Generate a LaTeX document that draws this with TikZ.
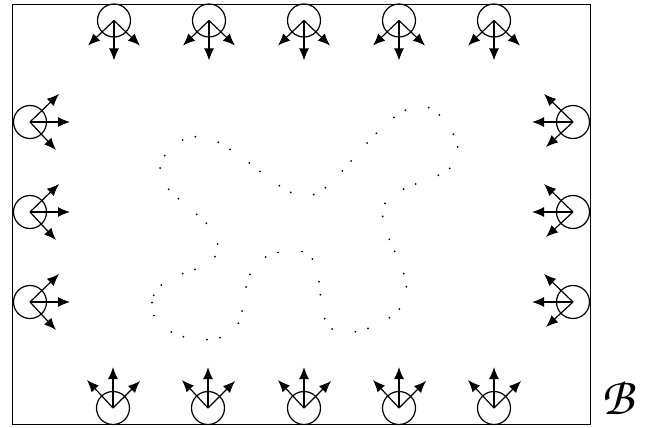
\documentclass[tikz,border=0pt]{standalone}
\usetikzlibrary{arrows.meta}
\begin{document}
\begin{tikzpicture}[x=1pt,y=-1pt,
  ring/.style={draw,circle,line width=1.2pt,minimum size=33pt,inner sep=0pt},
  arr/.style={line width=1.2pt,-{Latex[length=12pt,width=10pt]}},
  frame/.style={draw,line width=1pt},
  dotmark/.style={fill=black}]
\useasboundingbox (0,0) rectangle (646,428);
\draw[frame] (12,4.5) rectangle (590,424);
% top row
\foreach \i/\x in {1/114,2/209,3/304,4/399,5/494}{
  \node[ring] (t\i) at (\x,20.5) {};
  \draw[arr] (t\i.center) -- ++(0,40);
  \draw[arr] (t\i.center) -- ++(-26,25);
  \draw[arr] (t\i.center) -- ++(26,25);
}
% bottom row
\foreach \i/\x in {1/113,2/208,3/304,4/399,5/494}{
  \node[ring] (b\i) at (\x,408) {};
  \draw[arr] (b\i.center) -- ++(0,-41);
  \draw[arr] (b\i.center) -- ++(-26,-28);
  \draw[arr] (b\i.center) -- ++(27,-27);
}
% left column
\foreach \i/\y in {1/122,2/212,3/302}{
  \node[ring] (l\i) at (30,\y) {};
  \draw[arr] (l\i.center) -- ++(40,0);
  \draw[arr] (l\i.center) -- ++(29,-28);
  \draw[arr] (l\i.center) -- ++(26,28);
}
% right column
\foreach \i/\y in {1/122,2/212,3/302}{
  \node[ring] (r\i) at (573,\y) {};
  \draw[arr] (r\i.center) -- ++(-41,0);
  \draw[arr] (r\i.center) -- ++(-29,-28);
  \draw[arr] (r\i.center) -- ++(-27,25);
}
% dotted closed curve
\foreach \p in {(182.7,140),(195.3,136.7),(218.3,142.3),(230,149.3),(249.3,163),(260,171.3),
  (279.3,185.7),(290.7,192.3),(313.7,194.7),(325.3,187.7),(342.3,171),(351,161),
  (367,143),(376.3,133.3),(394,117.3),(405.3,110.3),(428.7,107.7),(439.3,115),
  (453.3,134.3),(457.7,147),(449.7,168.3),(438.3,175.3),(415.7,184),(403.7,189),
  (385,203.3),(382.7,216.3),(389.3,239.3),(394.7,251.3),(403.7,273.7),(406.3,286.7),
  (399.3,309),(389.3,317.7),(368,328.3),(355.3,331.7),(332,329),(324.7,318.7),
  (320.3,294.7),(319,281.7),(312.3,259),(302,251.7),(278,252.3),(265.7,257),
  (250,274.3),(246,287),(242,311),(238.3,323.3),(220,337.7),(207,339.7),
  (183.3,336.7),(171.3,332),(154,315.7),(152,302.7),(153.7,295.3),(161.3,285),
  (182.7,273.7),(195,269.3),(215,256.7),(217.7,244),(206.3,223.3),(196.7,214.3),
  (178.3,198.7),(168.7,189.3),(160,168),(164.7,155.7)}{
  \fill[dotmark] \p circle (1pt);
}
\node[inner sep=0pt] (B) at (617,397) {\resizebox{32pt}{!}{\fontencoding{T1}\fontfamily{pzc}\fontseries{m}\fontshape{it}\selectfont B}};
\end{tikzpicture}
\end{document}
